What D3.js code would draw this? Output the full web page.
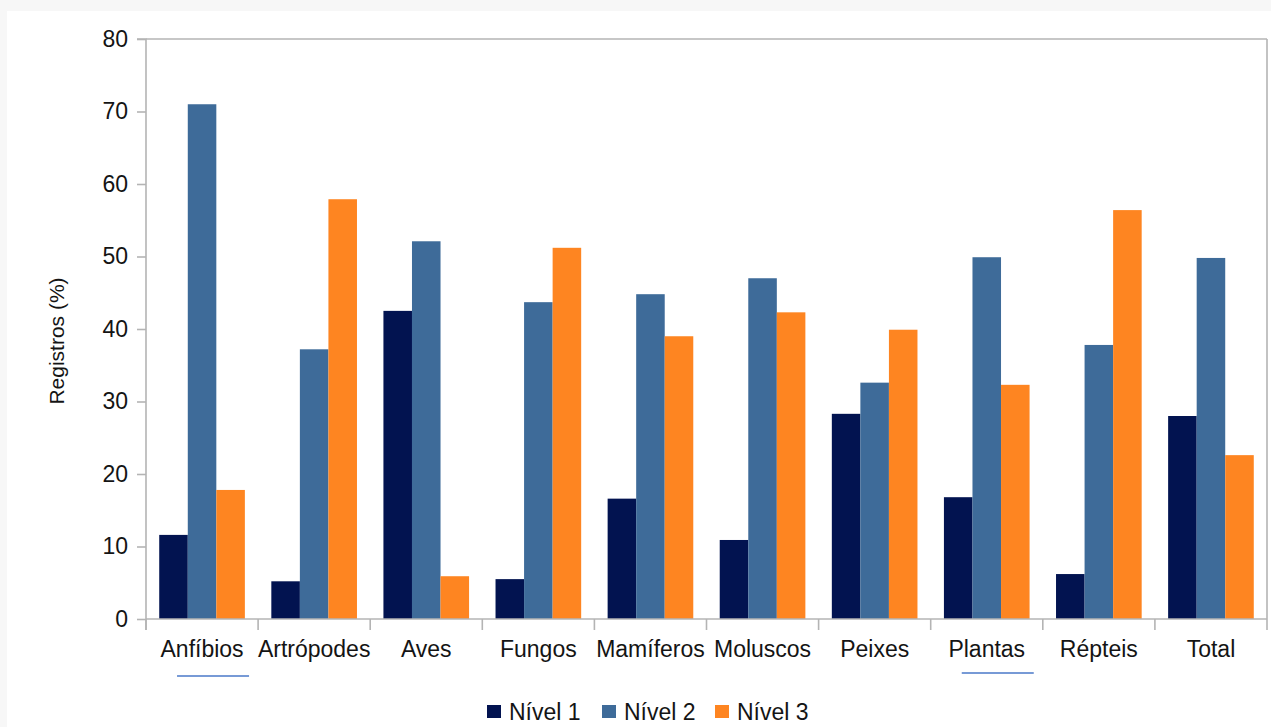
<!DOCTYPE html>
<html>
<head>
<meta charset="utf-8">
<script src="https://cdn.jsdelivr.net/npm/d3@7"></script>
<style>
  html, body { margin: 0; padding: 0; background: #f7f7f7; }
  svg { display: block; }
  text { font-family: "Liberation Sans", Arial, sans-serif; fill: #141414; }
</style>
</head>
<body>
<svg id="chart" width="1271" height="727"></svg>
<script>
const categories = ["Anfíbios", "Artrópodes", "Aves", "Fungos", "Mamíferos", "Moluscos", "Peixes", "Plantas", "Répteis", "Total"];
const seriesNames = ["Nível 1", "Nível 2", "Nível 3"];
const nivel1 = [11.6, 5.2, 42.5, 5.5, 16.6, 10.9, 28.3, 16.8, 6.2, 28.0];
const nivel2 = [71.0, 37.2, 52.1, 43.7, 44.8, 47.0, 32.6, 49.9, 37.8, 49.8];
const nivel3 = [17.8, 57.9, 5.9, 51.2, 39.0, 42.3, 39.9, 32.3, 56.4, 22.6];
const yTicks = [0, 10, 20, 30, 40, 50, 60, 70, 80];
const colors = ["#021350", "#3e6b99", "#fe8521"];
const yTitle = "Registros (%)";

const seriesValues = [nivel1, nivel2, nivel3];
const svg = d3.select("#chart");

// white panel
svg.append("rect").attr("x", 7).attr("y", 11).attr("width", 1264).attr("height", 716).attr("fill", "#ffffff");

const L = 146, R = 1267, T = 39, B = 619;
const axisColor = "#b4b4b4";
const textColor = "#141414";

const x = d3.scaleBand().domain(categories).range([L, R]).paddingInner(0).paddingOuter(0);
const xs = d3.scaleBand().domain(seriesNames).range([x.bandwidth() * 0.118, x.bandwidth() * 0.882]);
const y = d3.scaleLinear().domain([0, 80]).range([B, T]);

// bars
const data = [];
categories.forEach((c, i) => {
  seriesNames.forEach((s, j) => data.push({ c, s, j, v: seriesValues[j][i] }));
});
svg.append("g").selectAll("rect").data(data).join("rect")
  .attr("x", d => x(d.c) + xs(d.s))
  .attr("y", d => y(d.v))
  .attr("width", xs.bandwidth())
  .attr("height", d => y(0) - y(d.v))
  .attr("fill", d => colors[d.j]);

// frame top and right
svg.append("line").attr("x1", L).attr("x2", R).attr("y1", T).attr("y2", T).attr("stroke", axisColor).attr("stroke-width", 1.6);
svg.append("line").attr("x1", R).attr("x2", R).attr("y1", T).attr("y2", B).attr("stroke", axisColor).attr("stroke-width", 1.6);

// y axis
const yAxis = d3.axisLeft(y).tickValues(yTicks).tickSize(9).tickPadding(9).tickFormat(d3.format("d"));
const gy = svg.append("g").attr("transform", `translate(${L},0)`).call(yAxis);
gy.select(".domain").attr("stroke", axisColor).attr("stroke-width", 1.6).attr("d", `M-9,${T}H0V${B + 11}`);
gy.selectAll(".tick line").attr("stroke", axisColor).attr("stroke-width", 1.6);
gy.selectAll(".tick text").attr("font-size", 23).attr("fill", textColor)
  .attr("font-family", "Liberation Sans, Arial, sans-serif");

// x axis
const xAxis = d3.axisBottom(x).tickSize(0).tickPadding(22);
const gx = svg.append("g").attr("transform", `translate(0,${B})`).call(xAxis);
gx.select(".domain").attr("stroke", axisColor).attr("stroke-width", 1.6).attr("d", `M${L},0H${R}`);
gx.selectAll(".tick text").attr("font-size", 23).attr("fill", textColor)
  .attr("font-family", "Liberation Sans, Arial, sans-serif");
const bounds = categories.map(c => x(c)).concat([x.range()[1]]);
gx.selectAll(".bound").data(bounds).join("line").attr("class", "bound")
  .attr("x1", d => d).attr("x2", d => d).attr("y1", 0).attr("y2", 11)
  .attr("stroke", axisColor).attr("stroke-width", 1.6);

// spell-check style underlines seen in the reference
[["Anfíbios", 676], ["Plantas", 673]].forEach(([c, yy]) => {
  const cx = x(c) + x.bandwidth() / 2 + 11;
  svg.append("line").attr("x1", cx - 36).attr("x2", cx + 36).attr("y1", yy).attr("y2", yy)
    .attr("stroke", "#4a78c8").attr("stroke-width", 1.4);
});

// y title
svg.append("text")
  .attr("transform", `translate(64,${(T + B) / 2 + 12}) rotate(-90)`)
  .attr("text-anchor", "middle").attr("font-size", 21).text(yTitle);

// legend
const legendX = [487, 602, 715];
const lg = svg.append("g");
seriesNames.forEach((s, j) => {
  lg.append("rect").attr("x", legendX[j]).attr("y", 705).attr("width", 14).attr("height", 13).attr("fill", colors[j]);
  lg.append("text").attr("x", legendX[j] + 22).attr("y", 720).attr("font-size", 23).text(s);
});
</script>
</body>
</html>
